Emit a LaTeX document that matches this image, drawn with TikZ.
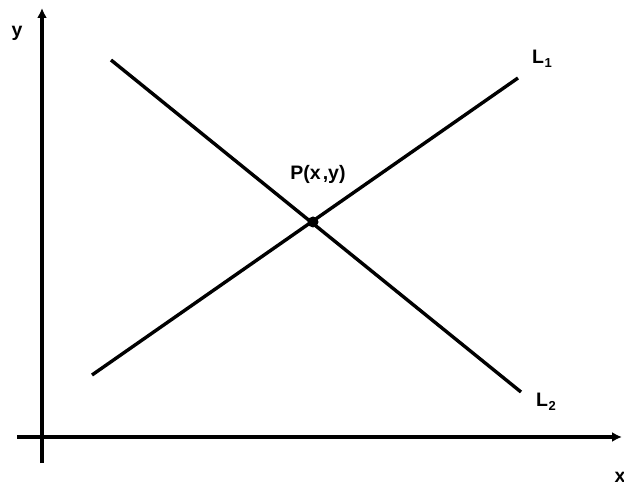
\documentclass[tikz,border=0pt]{standalone}
\usepackage{fontspec}
\setmainfont{Liberation Sans}
\usetikzlibrary{arrows.meta}
\newcommand{\linesub}[1]{L\kern0.5pt\raisebox{-3.5pt}{\fontsize{13}{13}\selectfont #1}}
\tikzset{
  axisline/.style={line width=3.4pt,-{Latex[length=10pt,width=10pt]}},
  plainline/.style={line width=3.4pt},
  lbl/.style={font=\bfseries\fontsize{19.5}{21}\selectfont,inner sep=0pt}
}
\begin{document}
\begin{tikzpicture}[x=1pt,y=-1pt]
  \useasboundingbox (0,0) rectangle (624,486);
  % axes
  \coordinate (xstart) at (17,437);
  \coordinate (xend) at (622,437);
  \coordinate (ystart) at (42,463);
  \coordinate (yend) at (42,8);
  \draw[axisline] (xstart) -- (xend);
  \draw[axisline] (ystart) -- (yend);
  \node[lbl] (ylabel) at (17,33) {y};
  \node[lbl] (xlabel) at (620,477) {x};
  % the two lines
  \coordinate (aone) at (92,375);
  \coordinate (bone) at (518,78);
  \coordinate (atwo) at (111,60);
  \coordinate (btwo) at (521,392);
  \draw[plainline] (aone) -- (bone);
  \draw[plainline] (atwo) -- (btwo);
  \node[lbl,anchor=west] (lone) at (532,59) {\linesub{1}};
  \node[lbl,anchor=west] (ltwo) at (536,402) {\linesub{2}};
  % intersection
  \fill (313,222) circle (5.5pt) coordinate (P);
  \node[lbl] (plabel) at (318,174) {P(x\kern2pt,y)};
\end{tikzpicture}
\end{document}
